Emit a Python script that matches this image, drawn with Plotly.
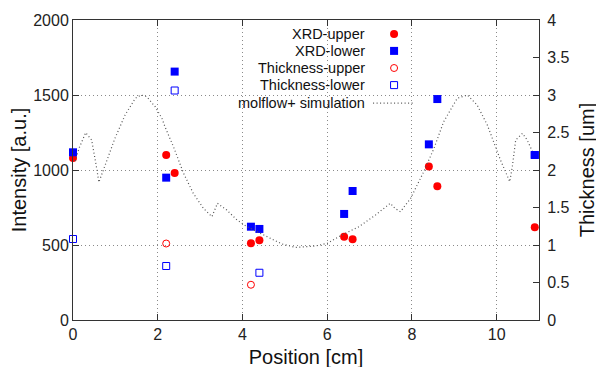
import plotly.graph_objects as go

# ---------------- data ----------------
xrd_upper_x = [0.0, 2.2, 2.4, 4.2, 4.4, 6.4, 6.6, 8.4, 8.6, 10.9]
xrd_upper_y = [1080, 1100, 980, 511, 531, 555, 538, 1024, 891, 618]

xrd_lower_x = [0.0, 2.2, 2.4, 4.2, 4.4, 6.4, 6.6, 8.4, 8.6, 10.9]
xrd_lower_y = [1118, 949, 1656, 622, 607, 707, 860, 1171, 1473, 1100]

thick_upper_x = [2.2, 4.2]
thick_upper_y = [1.02, 0.47]

thick_lower_x = [0.0, 2.2, 2.4, 4.4, 10.9]
thick_lower_y = [1.08, 0.72, 3.06, 0.63, 2.2]

sim_x = [0.05, 0.15, 0.30, 0.44, 0.56, 0.61, 0.76, 0.99, 1.23, 1.47, 1.61, 1.74,
         1.94, 2.10, 2.17, 2.37, 2.61, 2.84, 3.08, 3.28, 3.41, 3.63, 3.87, 4.11,
         4.42, 4.62, 4.93, 5.25, 5.72, 6.00, 6.35, 6.75, 7.14, 7.49, 7.60, 7.73,
         7.97, 8.28, 8.52, 8.75, 9.07, 9.31, 9.54, 9.78, 10.09, 10.31, 10.37,
         10.45, 10.61, 10.72, 10.85]
sim_y = [1060, 1150, 1249, 1200, 1011, 918, 1033, 1211, 1367, 1478, 1500, 1489,
         1422, 1344, 1289, 1156, 978, 844, 744, 689, 778, 733, 667, 622,
         578, 551, 507, 484, 493, 511, 567, 622, 700, 778, 744, 722,
         811, 989, 1144, 1322, 1478, 1500, 1433, 1300, 1067, 922, 1022,
         1200, 1244, 1200, 1120]

x_ticks = [0, 2, 4, 6, 8, 10]
y_ticks = [0, 500, 1000, 1500, 2000]
y2_ticks = [0, 0.5, 1, 1.5, 2, 2.5, 3, 3.5, 4]
y2_labels = ["0", "0.5", "1", "1.5", "2", "2.5", "3", "3.5", "4"]

legend_names = ["XRD-upper", "XRD-lower", "Thickness-upper", "Thickness-lower",
                "molflow+ simulation"]

# ---------------- styles ----------------
RED = "#ff0000"
BLUE = "#0000ff"
GREY = "#555555"
FONT = "Liberation Sans, Arial, sans-serif"
AX = "#333333"

fig = go.Figure()

fig.add_trace(go.Scatter(x=xrd_upper_x, y=xrd_upper_y, mode="markers",
                         marker=dict(symbol="circle", size=8, color=RED, line=dict(width=0)),
                         cliponaxis=False, showlegend=False))
fig.add_trace(go.Scatter(x=xrd_lower_x, y=xrd_lower_y, mode="markers",
                         marker=dict(symbol="square", size=8, color=BLUE, line=dict(width=0)),
                         cliponaxis=False, showlegend=False))
fig.add_trace(go.Scatter(x=thick_upper_x, y=thick_upper_y, mode="markers", yaxis="y2",
                         marker=dict(symbol="circle-open", size=7, color=RED, line=dict(width=1)),
                         cliponaxis=False, showlegend=False))
fig.add_trace(go.Scatter(x=thick_lower_x, y=thick_lower_y, mode="markers", yaxis="y2",
                         marker=dict(symbol="square-open", size=7, color=BLUE, line=dict(width=1)),
                         cliponaxis=False, showlegend=False))
fig.add_trace(go.Scatter(x=sim_x, y=sim_y, mode="lines",
                         line=dict(color=GREY, width=1.2, dash="1px,2.5px"),
                         showlegend=False))

# ---------------- custom gnuplot-style legend ----------------
leg_rows = [0.953, 0.897, 0.840, 0.783, 0.723]
leg_text_x = 0.631
leg_sym_x = 0.689
leg_syms = [("circle", RED, 8, 0), ("square", BLUE, 8, 0),
            ("circle-open", RED, 7, 1), ("square-open", BLUE, 7, 1)]
for (sym, col, sz, lw), yy in zip(leg_syms, leg_rows[:4]):
    fig.add_trace(go.Scatter(x=[leg_sym_x], y=[yy], mode="markers", xaxis="x3", yaxis="y3",
                             marker=dict(symbol=sym, size=sz, color=col, line=dict(width=lw, color=col)),
                             showlegend=False, hoverinfo="skip", cliponaxis=False))
fig.add_trace(go.Scatter(x=[0.644, 0.730], y=[leg_rows[4]] * 2, mode="lines", xaxis="x3", yaxis="y3",
                         line=dict(color=GREY, width=1.2, dash="1px,2.5px"),
                         showlegend=False, hoverinfo="skip"))
for name, yy in zip(legend_names, leg_rows):
    fig.add_annotation(x=leg_text_x, y=yy, xref="paper", yref="paper", text=name,
                       showarrow=False, xanchor="right", yanchor="middle",
                       font=dict(family=FONT, size=14.5, color="#111"))

fig.add_shape(type="rect", xref="paper", yref="paper", x0=0.279, x1=0.745, y0=0.707, y1=0.995,
              fillcolor="white", line=dict(width=0), layer="between")

grid = dict(showgrid=True, gridcolor="#8a8a8a", gridwidth=1, griddash="1px,3px")
tickfont = dict(family=FONT, size=16, color="#222")
titlefont = dict(family=FONT, size=20, color="#111")

# the page body adds an 8px offset, so margins are shifted to compensate
fig.update_layout(
    width=604, height=367,
    margin=dict(l=65, r=73, t=12, b=55, autoexpand=False),
    paper_bgcolor="white", plot_bgcolor="white",
    xaxis=dict(range=[0, 11], tickvals=x_ticks, ticks="inside", ticklen=6, tickcolor=AX,
               showline=True, linecolor=AX, linewidth=1, mirror="ticks", zeroline=False,
               automargin=False, tickfont=tickfont,
               title=dict(text="Position [cm]", font=titlefont, standoff=7),
               **grid),
    yaxis=dict(range=[0, 2000], tickvals=y_ticks, ticks="inside", ticklen=6, tickcolor=AX,
               showline=True, linecolor=AX, linewidth=1, mirror=True, zeroline=False,
               automargin=False, tickfont=tickfont,
               title=dict(text="Intensity [a.u.]", font=titlefont, standoff=4),
               **grid),
    yaxis2=dict(range=[0, 4], tickvals=y2_ticks, ticktext=y2_labels, overlaying="y", side="right",
                ticks="inside", ticklen=6, tickcolor=AX, showline=True, linecolor=AX,
                linewidth=1, showgrid=False, zeroline=False, tickfont=tickfont, automargin=False,
                ticklabelstandoff=4,
                title=dict(text="Thickness [um]", font=titlefont, standoff=11)),
    xaxis3=dict(range=[0, 1], overlaying="x", visible=False),
    yaxis3=dict(range=[0, 1], overlaying="y", visible=False),
)

fig.write_html("out.html")
